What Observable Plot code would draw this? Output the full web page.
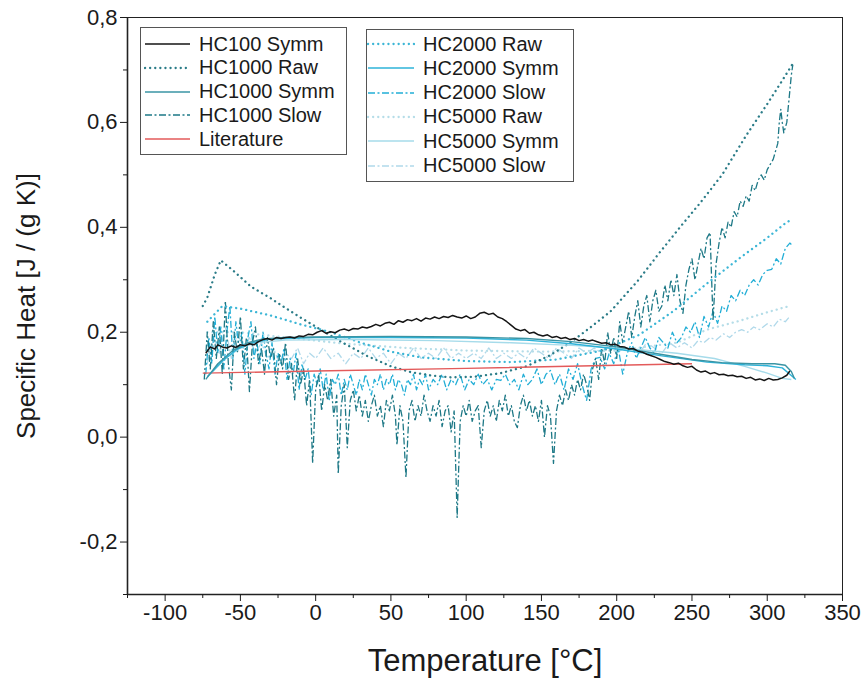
<!DOCTYPE html>
<html><head><meta charset="utf-8">
<script src="https://cdn.jsdelivr.net/npm/d3@7"></script>
<script src="https://cdn.jsdelivr.net/npm/@observablehq/plot@0.6"></script>
<style>
body{margin:0;background:#fff;font-family:"Liberation Sans",Arial,sans-serif;}
#wrap{position:relative;width:864px;height:687px;overflow:hidden;}
.legend{position:absolute;border:1px solid #555;background:#fff;box-sizing:border-box;}
.row{position:absolute;left:0;height:24px;display:flex;align-items:center;font-size:20px;color:#1a1a1a;white-space:nowrap;}
.row svg{flex:none;}
g[aria-label="x-axis label"] text{font-size:31px;fill:#1a1a1a;}
g[aria-label="y-axis label"] text{font-size:26px;fill:#1a1a1a;}
</style>
</head><body><div id="wrap"></div>
<script>
// ---- data (temperature °C, specific heat J/(g K)) ----
const xMajor = [-100,-50,0,50,100,150,200,250,300,350];
const xMinor = [-125,-75,-25,25,75,125,175,225,275,325];
const yMajor = [-0.2,0,0.2,0.4,0.6,0.8];
const yMinor = [-0.3,-0.1,0.1,0.3,0.5,0.7];

const hc100Symm = [[-73,0.16],[-70,0.172],[-67,0.168],[-65,0.176],[-62,0.172],[-59,0.17],[-56,0.174],[-53,0.171],[-50,0.176],[-47,0.174],[-44,0.178],[-41,0.176],[-38,0.182],[-35,0.186],[-32,0.188],[-29,0.185],[-26,0.19],[-23,0.188],[-20,0.19],[-17,0.191],[-14,0.189],[-11,0.193],[-8,0.192],[-5,0.196],[-2,0.195],[1,0.2],[4,0.203],[7,0.198],[10,0.201],[13,0.199],[16,0.204],[19,0.206],[22,0.203],[25,0.207],[28,0.206],[31,0.21],[34,0.208],[37,0.211],[40,0.215],[43,0.212],[46,0.217],[49,0.219],[52,0.215],[55,0.222],[58,0.219],[61,0.224],[64,0.222],[67,0.226],[70,0.221],[73,0.227],[76,0.225],[79,0.229],[82,0.226],[85,0.23],[88,0.228],[91,0.232],[94,0.229],[97,0.227],[100,0.231],[103,0.226],[106,0.229],[109,0.236],[112,0.238],[115,0.234],[118,0.236],[121,0.229],[124,0.226],[127,0.22],[130,0.213],[133,0.206],[136,0.203],[139,0.205],[142,0.198],[145,0.2],[148,0.195],[151,0.193],[154,0.195],[157,0.19],[160,0.192],[163,0.188],[166,0.19],[169,0.186],[172,0.188],[175,0.184],[178,0.186],[181,0.183],[184,0.185],[187,0.182],[190,0.179],[193,0.18],[196,0.176],[199,0.177],[202,0.173],[205,0.172],[208,0.168],[211,0.169],[214,0.164],[217,0.162],[220,0.158],[223,0.155],[226,0.152],[229,0.148],[232,0.144],[235,0.142],[238,0.139],[241,0.141],[244,0.136],[247,0.133],[250,0.135],[253,0.128],[256,0.124],[259,0.126],[262,0.121],[265,0.123],[268,0.119],[271,0.12],[274,0.117],[277,0.118],[280,0.115],[283,0.116],[286,0.112],[289,0.114],[292,0.109],[295,0.111],[298,0.108],[301,0.112],[304,0.109],[307,0.11],[310,0.113],[313,0.118],[315,0.126]];

const hc1000Raw = [[-75,0.25],[-72,0.266],[-67,0.31],[-63,0.337],[-55,0.318],[-43,0.287],[-30,0.265],[-21,0.248],[-10,0.228],[1,0.209],[15,0.185],[34,0.155],[50,0.135],[63,0.124],[78,0.117],[90,0.114],[105,0.115],[123,0.122],[140,0.135],[155,0.155],[168,0.178],[182,0.208],[196,0.24],[214,0.298],[228,0.35],[242,0.4],[255,0.445],[270,0.5],[286,0.575],[300,0.635],[310,0.68],[317,0.712]];

const hc1000Symm = [[-73,0.11],[-65,0.14],[-55,0.165],[-45,0.18],[-35,0.187],[-20,0.19],[0,0.191],[50,0.192],[100,0.191],[140,0.188],[170,0.182],[200,0.172],[225,0.16],[250,0.148],[270,0.142],[290,0.14],[305,0.14],[312,0.137],[316,0.125],[318,0.112]];

const hc1000Slow = [[-74,0.11],[-72,0.2],[-70,0.13],[-68,0.22],[-66,0.15],[-64,0.21],[-62,0.12],[-60,0.26],[-58,0.14],[-56,0.09],[-54,0.2],[-52,0.16],[-50,0.23],[-48,0.13],[-46,0.19],[-44,0.087],[-42,0.18],[-40,0.21],[-38,0.14],[-36,0.17],[-34,0.12],[-32,0.19],[-30,0.15],[-28,0.17],[-26,0.1],[-24,0.16],[-22,0.13],[-20,0.18],[-18,0.11],[-16,0.14],[-14,0.07],[-12,0.15],[-10,0.1],[-8,0.13],[-6,0.06],[-4,0.11],[-2,-0.05],[0,0.09],[2,0.12],[4,0.05],[6,0.1],[8,0.07],[10,0.11],[12,0.04],[14,0.08],[15,-0.07],[17,0.06],[19,0.1],[21,-0.02],[23,0.07],[25,0.09],[27,0.05],[29,0.08],[31,0.04],[33,0.07],[35,0.03],[37,0.06],[39,0.08],[41,0.04],[43,0.06],[45,0.02],[47,0.07],[49,0.05],[51,0.08],[53,0.04],[54,-0.015],[56,0.06],[58,0.03],[60,-0.077],[62,0.05],[64,0.07],[66,0.03],[68,0.06],[70,0.04],[72,0.08],[74,0.05],[76,0.03],[78,0.06],[80,0.04],[82,0.07],[84,0.02],[86,0.05],[88,0.06],[90,0.01],[92,0.05],[94,-0.153],[96,0.03],[98,0.06],[100,0.04],[102,0.07],[104,0.03],[106,0.05],[108,0.06],[110,-0.02],[112,0.05],[114,0.07],[116,0.04],[118,0.06],[120,0.03],[122,0.07],[124,0.05],[126,0.08],[128,0.04],[130,0.06],[132,0.03],[134,0.018],[136,0.06],[138,0.08],[140,0.05],[142,0.07],[144,0.04],[146,0.06],[148,0.03],[150,0.07],[152,0.0],[154,0.06],[156,0.04],[158,-0.05],[160,0.05],[162,0.08],[164,0.06],[166,0.09],[168,0.07],[170,0.1],[172,0.08],[174,0.11],[176,0.09],[178,0.12],[180,0.1],[182,0.07],[184,0.13],[186,0.15],[188,0.11],[190,0.17],[192,0.14],[194,0.2],[196,0.16],[198,0.19],[200,0.15],[202,0.22],[204,0.18],[206,0.21],[208,0.24],[210,0.19],[212,0.23],[214,0.26],[216,0.21],[218,0.25],[220,0.27],[222,0.22],[224,0.26],[226,0.28],[228,0.24],[230,0.25],[232,0.29],[234,0.26],[236,0.3],[238,0.27],[240,0.31],[242,0.26],[244,0.236],[246,0.29],[248,0.32],[250,0.34],[252,0.3],[254,0.33],[256,0.36],[258,0.34],[260,0.38],[262,0.39],[264,0.222],[266,0.33],[268,0.37],[270,0.4],[272,0.38],[274,0.41],[276,0.4],[278,0.43],[280,0.42],[282,0.45],[284,0.44],[286,0.46],[288,0.45],[290,0.48],[292,0.47],[294,0.49],[296,0.5],[298,0.49],[300,0.51],[302,0.52],[304,0.53],[306,0.55],[307,0.56],[308,0.6],[309,0.625],[310,0.6],[311,0.58],[312,0.59],[313,0.6],[314,0.63],[315,0.66],[316,0.69],[317,0.71]];

const literature = [[-75,0.122],[0,0.126],[100,0.131],[200,0.137],[250,0.14]];

const hc2000Raw = [[-72,0.22],[-62,0.25],[-50,0.245],[-30,0.232],[-10,0.215],[10,0.2],[30,0.18],[50,0.163],[70,0.152],[100,0.145],[130,0.143],[160,0.148],[190,0.165],[215,0.195],[238,0.241],[260,0.293],[282,0.342],[300,0.38],[313,0.41],[317,0.415]];

const hc2000Symm = [[-72,0.115],[-62,0.145],[-52,0.168],[-42,0.18],[-30,0.187],[0,0.19],[50,0.19],[100,0.189],[140,0.185],[170,0.178],[200,0.168],[230,0.155],[260,0.143],[285,0.138],[300,0.136],[310,0.132],[315,0.12],[319,0.11]];

const hc2000Slow = [[-73,0.12],[-71,0.19],[-69,0.14],[-67,0.23],[-65,0.16],[-63,0.21],[-61,0.13],[-59,0.2],[-57,0.25],[-55,0.15],[-53,0.22],[-51,0.17],[-49,0.2],[-47,0.12],[-45,0.19],[-43,0.22],[-41,0.15],[-39,0.18],[-37,0.14],[-35,0.2],[-33,0.16],[-31,0.13],[-29,0.18],[-27,0.12],[-25,0.16],[-23,0.14],[-21,0.17],[-19,0.11],[-17,0.15],[-15,0.12],[-13,0.16],[-11,0.09],[-9,0.14],[-7,0.11],[-5,0.13],[-3,0.08],[-1,0.12],[1,0.1],[3,0.13],[5,0.09],[7,0.12],[9,0.07],[11,0.11],[13,0.1],[15,0.12],[17,0.08],[19,0.11],[21,0.09],[23,0.12],[25,0.1],[27,0.08],[29,0.11],[31,0.09],[33,0.12],[35,0.1],[37,0.08],[39,0.11],[41,0.1],[43,0.12],[45,0.09],[47,0.11],[49,0.1],[51,0.12],[53,0.09],[55,0.11],[57,0.1],[59,0.08],[61,0.11],[63,0.1],[65,0.12],[67,0.09],[69,0.11],[71,0.1],[73,0.12],[75,0.09],[78,0.11],[81,0.1],[84,0.12],[87,0.09],[90,0.11],[93,0.1],[96,0.12],[99,0.09],[102,0.11],[105,0.1],[108,0.12],[111,0.1],[114,0.11],[117,0.09],[120,0.11],[123,0.108],[126,0.12],[129,0.1],[132,0.11],[135,0.09],[138,0.12],[141,0.1],[144,0.11],[147,0.13],[150,0.1],[153,0.12],[156,0.127],[159,0.1],[162,0.12],[165,0.09],[168,0.13],[171,0.11],[174,0.14],[177,0.1],[180,0.07],[183,0.13],[186,0.15],[189,0.152],[192,0.13],[195,0.16],[198,0.14],[201,0.17],[204,0.12],[207,0.16],[210,0.18],[213,0.15],[216,0.17],[219,0.19],[222,0.17],[225,0.16],[228,0.19],[231,0.18],[234,0.17],[237,0.2],[240,0.18],[243,0.19],[246,0.21],[249,0.2],[252,0.22],[255,0.19],[258,0.23],[261,0.21],[264,0.24],[267,0.217],[270,0.25],[273,0.24],[276,0.27],[279,0.26],[282,0.28],[285,0.27],[288,0.29],[291,0.3],[294,0.29],[297,0.31],[300,0.318],[303,0.32],[306,0.34],[309,0.33],[312,0.36],[315,0.37],[317,0.365]];

const hc5000Raw = [[-72,0.2],[-50,0.2],[-20,0.19],[20,0.178],[60,0.17],[100,0.165],[150,0.163],[200,0.165],[240,0.18],[260,0.205],[282,0.222],[300,0.238],[311,0.247],[315,0.25]];

const hc5000Symm = [[-70,0.12],[-60,0.15],[-50,0.17],[-40,0.18],[-20,0.185],[20,0.186],[80,0.184],[130,0.18],[170,0.175],[210,0.168],[240,0.16],[265,0.15],[285,0.135],[300,0.122],[310,0.112],[316,0.11]];

const hc5000Slow = [[-72,0.14],[-68,0.19],[-64,0.16],[-60,0.21],[-56,0.15],[-52,0.2],[-48,0.17],[-44,0.19],[-40,0.16],[-36,0.18],[-32,0.15],[-28,0.17],[-24,0.14],[-20,0.16],[-16,0.15],[-12,0.17],[-8,0.14],[-4,0.16],[0,0.15],[5,0.17],[10,0.15],[15,0.16],[20,0.14],[25,0.16],[30,0.15],[35,0.17],[40,0.15],[45,0.16],[50,0.14],[55,0.16],[60,0.15],[65,0.17],[70,0.15],[75,0.16],[80,0.15],[85,0.17],[90,0.15],[95,0.16],[100,0.15],[105,0.16],[110,0.15],[115,0.17],[120,0.15],[125,0.16],[130,0.15],[135,0.16],[140,0.15],[145,0.17],[150,0.16],[155,0.15],[160,0.17],[165,0.16],[170,0.15],[175,0.17],[180,0.16],[185,0.17],[190,0.16],[195,0.18],[200,0.16],[205,0.17],[210,0.17],[215,0.16],[220,0.18],[225,0.17],[230,0.16],[235,0.18],[240,0.17],[245,0.18],[250,0.17],[254,0.184],[258,0.18],[262,0.19],[266,0.185],[271,0.197],[275,0.19],[279,0.2],[283,0.205],[287,0.2],[291,0.21],[295,0.205],[300,0.216],[304,0.21],[308,0.225],[312,0.22],[315,0.23]];

// ---- styles ----
const DOT = "0.1,5", DASHDOT = "7,2.5,2,2.5";
const series = [
  {name:"HC100 Symm",   data:hc100Symm,   color:"#151515", dash:null,    w:1.5, col:0},
  {name:"HC1000 Raw",   data:hc1000Raw,   color:"#2b7c88", dash:DOT,     w:2.3, col:0},
  {name:"HC1000 Symm",  data:hc1000Symm,  color:"#3a94a4", dash:null,    w:1.4, col:0},
  {name:"HC1000 Slow",  data:hc1000Slow,  color:"#1d7886", dash:DASHDOT, w:1.3, col:0},
  {name:"Literature",   data:literature,  color:"#e35a5a", dash:null,    w:1.4, col:0},
  {name:"HC2000 Raw",   data:hc2000Raw,   color:"#3cb6d6", dash:DOT,     w:2.3, col:1},
  {name:"HC2000 Symm",  data:hc2000Symm,  color:"#2eb3d9", dash:null,    w:1.4, col:1},
  {name:"HC2000 Slow",  data:hc2000Slow,  color:"#22aed6", dash:DASHDOT, w:1.3, col:1},
  {name:"HC5000 Raw",   data:hc5000Raw,   color:"#b5dde8", dash:DOT,     w:2.3, col:1},
  {name:"HC5000 Symm",  data:hc5000Symm,  color:"#a6dbea", dash:null,    w:1.4, col:1},
  {name:"HC5000 Slow",  data:hc5000Slow,  color:"#b0d9ea", dash:DASHDOT, w:1.3, col:1}
];
const drawOrder = ["HC5000 Slow","HC5000 Raw","HC2000 Slow","HC1000 Slow","HC2000 Raw","HC1000 Raw","HC5000 Symm","Literature","HC2000 Symm","HC1000 Symm","HC100 Symm"];

const fmt = d => d.toFixed(1).replace(".", ",");
const lineMarks = drawOrder.map(n => {
  const s = series.find(q => q.name === n);
  return Plot.line(s.data, {x: d => d[0], y: d => d[1], stroke: s.color, strokeWidth: s.w,
    strokeDasharray: s.dash ?? undefined, strokeLinecap: s.dash === DOT ? "round" : "butt", strokeLinejoin: "round"});
});

const plot = Plot.plot({
  width: 864, height: 687,
  marginLeft: 127, marginRight: 22, marginTop: 17, marginBottom: 93,
  x: {domain: [-125, 350]},
  y: {domain: [-0.3, 0.8]},
  style: {fontFamily: '"Liberation Sans", Arial, sans-serif', fontSize: "22px", color: "#1a1a1a", background: "#fff"},
  marks: [
    ...lineMarks,
    Plot.frame({stroke: "#222", strokeWidth: 1}),
    Plot.ruleX([-125], {stroke: "#222", strokeWidth: 1.6}),
    Plot.ruleY([-0.3], {stroke: "#222", strokeWidth: 1.6}),
    Plot.axisX({ticks: xMajor, tickSize: 7, tickPadding: 3, tickFormat: d => String(d), label: "Temperature [°C]", labelAnchor: "center", labelArrow: "none", labelOffset: 76}),
    Plot.axisX({ticks: xMinor, tickSize: 4, tickFormat: () => "", label: null}),
    Plot.axisY({ticks: yMajor, tickSize: 7, tickPadding: 3, tickFormat: fmt, label: "Specific Heat [J / (g K)]", labelAnchor: "center", labelArrow: "none", labelOffset: 111}),
    Plot.axisY({ticks: yMinor, tickSize: 4, tickFormat: () => "", label: null})
  ]
});
const wrap = document.getElementById("wrap");
wrap.appendChild(plot);

// ---- legend (HTML overlay) ----
const boxes = [
  {left:140, top:27, width:207, height:128, rowTop:31, step:23.8, sx:3, tx:58},
  {left:366, top:29, width:208, height:153, rowTop:31, step:24.3, sx:0, tx:56}
];
boxes.forEach((b, i) => {
  const box = document.createElement("div");
  box.className = "legend";
  Object.assign(box.style, {left:b.left+"px", top:b.top+"px", width:b.width+"px", height:b.height+"px"});
  series.filter(s => s.col === i).forEach((s, j) => {
    const row = document.createElement("div");
    row.className = "row";
    row.style.top = (b.rowTop - b.top + j*b.step) + "px";
    row.style.left = b.sx + "px";
    const svgNS = "http://www.w3.org/2000/svg";
    const sv = document.createElementNS(svgNS, "svg");
    sv.setAttribute("width", b.tx - b.sx - 8); sv.setAttribute("height", 10);
    const ln = document.createElementNS(svgNS, "line");
    ln.setAttribute("x1", 1); ln.setAttribute("x2", b.tx - b.sx - 9); ln.setAttribute("y1", 5); ln.setAttribute("y2", 5);
    ln.setAttribute("stroke", s.color); ln.setAttribute("stroke-width", s.w);
    if (s.dash) ln.setAttribute("stroke-dasharray", s.dash);
    if (s.dash === DOT) ln.setAttribute("stroke-linecap", "round");
    sv.appendChild(ln);
    const tx = document.createElement("span");
    tx.textContent = s.name;
    tx.style.marginLeft = "8px";
    row.appendChild(sv); row.appendChild(tx);
    box.appendChild(row);
  });
  wrap.appendChild(box);
});
</script>
</body></html>
